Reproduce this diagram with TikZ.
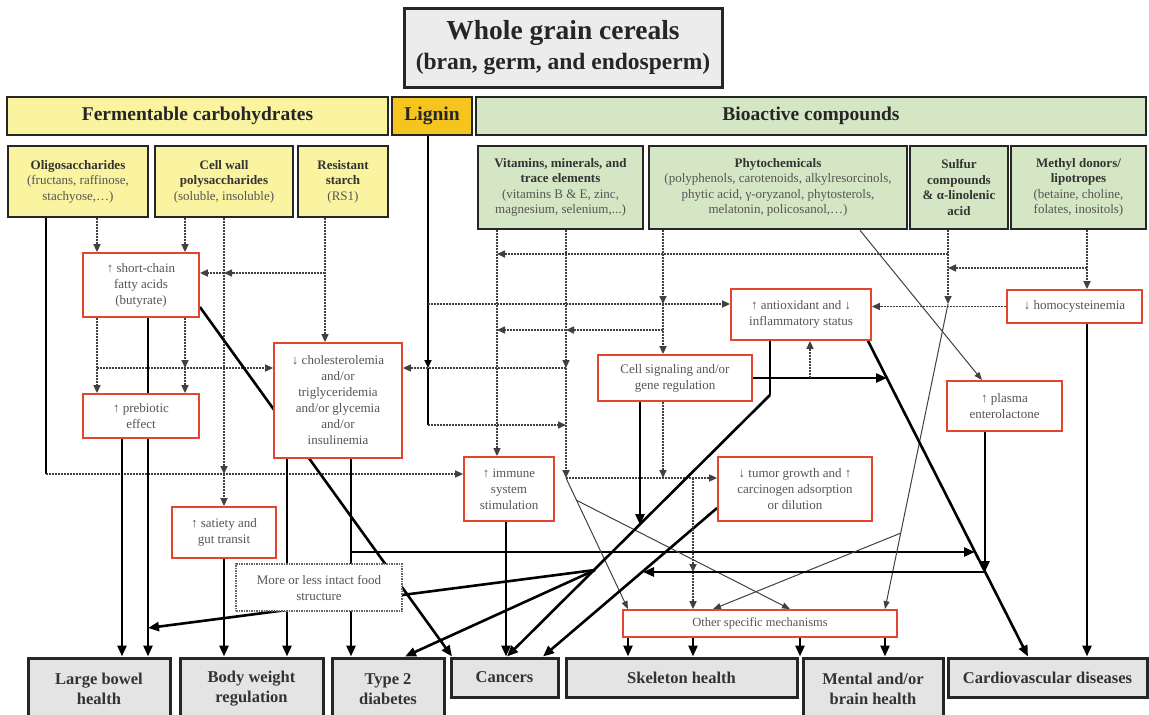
\documentclass[tikz,border=0pt]{standalone}
\usepackage{fontspec}
\setmainfont{Liberation Serif}
\usetikzlibrary{arrows.meta}
\pgfdeclarelayer{bg}
\pgfsetlayers{bg,main}

\definecolor{fermyellow}{RGB}{250,243,160}
\definecolor{lignorange}{RGB}{245,196,30}
\definecolor{biogreen}{RGB}{213,230,196}
\definecolor{outgray}{RGB}{228,228,228}
\definecolor{titlegray}{RGB}{236,236,236}
\definecolor{boxred}{RGB}{228,70,45}
\definecolor{textgray}{RGB}{85,85,85}

\newcommand{\fsz}[2]{\fontsize{#1}{#2}\selectfont}
\newcommand{\srchd}[1]{\textbf{\textcolor{black!80}{#1}}}

\begin{document}
\begin{tikzpicture}[x=1pt, y=-1pt,
every node/.style={align=center, inner sep=1pt},
srcbox/.style={draw=black!85, line width=2.6pt, text=textgray, font=\fsz{13}{15.5}},
yelbox/.style={srcbox, fill=fermyellow},
grnbox/.style={srcbox, fill=biogreen},
headbox/.style={draw=black!85, line width=2.6pt, text=black!85, font=\fsz{19.5}{22}\bfseries},
redbox/.style={draw=boxred, line width=1.8pt, fill=white, text=textgray, font=\fsz{13}{16}},
outbox/.style={draw=black!85, line width=3pt, fill=outgray, text=black!80, font=\fsz{16.5}{20}\bfseries},
fine/.style={draw=black!75, line width=1.6pt, dash pattern=on 2pt off 1pt},
finearr/.style={fine, -{Triangle[length=8pt,width=7pt]}},
slimarr/.style={draw=black!75, line width=1pt, -{Triangle[length=8pt,width=6pt]}},
heavy/.style={draw=black, line width=2.6pt},
heavyarr/.style={heavy, -{Triangle[length=11pt,width=9pt]}}
]
\useasboundingbox (0,0) rectangle (1149,715);

% title and groups
\node (title) at (563,47.5) [draw=black!85, line width=3pt, fill=titlegray, minimum width=318, minimum height=79, font=\bfseries, text=black!85]
  {{\fsz{27.5}{30}Whole grain cereals}\\[7pt]{\fsz{23.5}{28}(bran, germ, and endosperm)}};
\node (ferm) at (197.5,116) [headbox, fill=fermyellow, minimum width=381, minimum height=38] {Fermentable carbohydrates};
\node (lignin) at (432,116) [headbox, fill=lignorange, minimum width=80, minimum height=38] {Lignin};
\node (bioact) at (811,116) [headbox, fill=biogreen, minimum width=670, minimum height=38] {Bioactive compounds};

% sources
\node (oligo) at (78,181.5) [yelbox, minimum width=140, minimum height=71]
  {\srchd{Oligosaccharides}\\(fructans, raffinose,\\stachyose,…)};
\node (cellwall) at (224,181.5) [yelbox, minimum width=138, minimum height=71]
  {\srchd{Cell wall}\\\srchd{polysaccharides}\\(soluble, insoluble)};
\node (rstarch) at (343,181.5) [yelbox, minimum width=90, minimum height=71]
  {\srchd{Resistant}\\\srchd{starch}\\(RS1)};
\node (vitam) at (560.5,187.5) [grnbox, minimum width=165, minimum height=83]
  {\srchd{Vitamins, minerals, and}\\\srchd{trace elements}\\(vitamins B \& E, zinc,\\magnesium, selenium,...)};
\node (phyto) at (778,187.5) [grnbox, minimum width=258, minimum height=83]
  {\srchd{Phytochemicals}\\(polyphenols, carotenoids, alkylresorcinols,\\phytic acid, γ-oryzanol, phytosterols,\\melatonin, policosanol,…)};
\node (sulfur) at (959,187.5) [grnbox, minimum width=98, minimum height=83]
  {\srchd{Sulfur}\\\srchd{compounds}\\\srchd{\& α-linolenic}\\\srchd{acid}};
\node (methyl) at (1078.5,187.5) [grnbox, minimum width=135, minimum height=83]
  {\srchd{Methyl donors/}\\\srchd{lipotropes}\\(betaine, choline,\\folates, inositols)};

% effects
\node (scfa) at (141,285) [redbox, minimum width=116, minimum height=64] {↑ short-chain\\fatty acids\\(butyrate)};
\node (prebio) at (141,416) [redbox, minimum width=116, minimum height=44] {↑ prebiotic\\effect};
\node (chol) at (338,400.5) [redbox, minimum width=128, minimum height=115]
  {↓ cholesterolemia\\and/or\\triglyceridemia\\and/or glycemia\\and/or\\insulinemia};
\node (satiety) at (224,532.5) [redbox, minimum width=104, minimum height=51] {↑ satiety and\\gut transit};
\node (intact) at (319,587.5) [redbox, draw=black!60, dash pattern=on 1.5pt off 1pt, line width=1.5pt, minimum width=166, minimum height=47]
  {More or less intact food\\structure};
\node (immune) at (509,489) [redbox, minimum width=90, minimum height=64] {↑ immune\\system\\stimulation};
\node (cellsig) at (675,378) [redbox, minimum width=154, minimum height=46] {Cell signaling and/or\\gene regulation};
\node (antiox) at (801,314.5) [redbox, minimum width=140, minimum height=51] {↑ antioxidant and ↓\\inflammatory status};
\node (homocys) at (1074.5,306.5) [redbox, minimum width=135, minimum height=33] {↓ homocysteinemia};
\node (plasma) at (1004.5,406) [redbox, minimum width=115, minimum height=50] {↑ plasma\\enterolactone};
\node (tumor) at (795,489) [redbox, minimum width=154, minimum height=64] {↓ tumor growth and ↑\\carcinogen adsorption\\or dilution};
\node (other) at (760,623.5) [redbox, minimum width=274, minimum height=27, font=\fsz{12.5}{15}] {Other specific mechanisms};

% health outcomes
\node (bowel) at (99,689) [outbox, minimum width=142, minimum height=62] {Large bowel\\health};
\node (bodyw) at (251.5,689) [outbox, minimum width=143, minimum height=62] {Body weight\\regulation};
\node (type2) at (388,689) [outbox, minimum width=112, minimum height=62] {Type 2\\diabetes};
\node (cancers) at (504.5,677.5) [outbox, minimum width=107, minimum height=39] {Cancers};
\node (skeleton) at (681.5,677.5) [outbox, minimum width=231, minimum height=39] {Skeleton health};
\node (mental) at (873,689) [outbox, minimum width=140, minimum height=62] {Mental and/or\\brain health};
\node (cvd) at (1047.5,677.5) [outbox, minimum width=199, minimum height=39] {Cardiovascular diseases};

% junctions
\coordinate (jOl) at (46,474);
\coordinate (jCw) at (224,474);
\coordinate (jCw2) at (224,273);
\coordinate (jRs) at (325,273);
\coordinate (jSc) at (185,368);
\coordinate (jSc2) at (97,368);
\coordinate (jCh) at (351,552);
\coordinate (jBw) at (148,628);
\coordinate (jLg) at (428,368);
\coordinate (jLg2) at (428,425);
\coordinate (jLg3) at (428,304);
\coordinate (jVi) at (566,368);
\coordinate (jVi2) at (566,478);
\coordinate (jVi3) at (566,330);
\coordinate (jVi4) at (497,330);
\coordinate (jVi5) at (497,254);
\coordinate (jVi6) at (576,500);
\coordinate (jPh) at (663,304);
\coordinate (jPh2) at (663,330);
\coordinate (jSu) at (948,304);
\coordinate (jSu2) at (948,254);
\coordinate (jSu3) at (948,268);
\coordinate (jSu4) at (901,533);
\coordinate (jMe) at (1087,268);
\coordinate (jCs) at (663,478);
\coordinate (jCs2) at (810,378);
\coordinate (jAo) at (770,395);
\coordinate (jAo2) at (640,525);
\coordinate (jAo3) at (595,570);
\coordinate (jAo4) at (887,378);
\coordinate (jCv) at (975,552);
\coordinate (jCv2) at (985,572);
\coordinate (jTu) at (643,572);
\coordinate (jTu2) at (693,478);
\coordinate (jTu3) at (693,572);

\begin{pgfonlayer}{bg}
% fermentable carbohydrates
\draw[heavy, line width=1.6pt] (46,0 |- oligo.south) -- (jOl);
\draw[finearr] (jOl) -- (immune.west |- jOl);
\draw[finearr] (97,0 |- oligo.south) -- (97,0 |- scfa.north);
\draw[finearr] (185,0 |- cellwall.south) -- (185,0 |- scfa.north);
\draw[finearr] (224,0 |- cellwall.south) -- (jCw);
\draw[finearr] (jCw) -- (satiety.north);
\draw[finearr] (325,0 |- rstarch.south) -- (325,0 |- chol.north);
\draw[finearr] (jRs) -- (jCw2);
\draw[finearr] (jCw2) -- (scfa.east |- jCw2);
\draw[finearr] (97,0 |- scfa.south) -- (97,0 |- prebio.north);
\draw[finearr] (185,0 |- scfa.south) -- (jSc);
\draw[finearr] (jSc) -- (185,0 |- prebio.north);
\draw[finearr] (jSc2) -- (chol.west |- jSc2);
\draw[heavyarr] (148,0 |- scfa.south) -- (148,0 |- bowel.north);
\draw[heavyarr] (122,0 |- prebio.south) -- (122,0 |- bowel.north);
\draw[heavyarr] (scfa.east |- 0,307) -- (452,0 |- cancers.north);
\draw[heavyarr] (224,0 |- satiety.south) -- (224,0 |- bodyw.north);
\draw[heavyarr] (287,0 |- chol.south) -- (287,0 |- bodyw.north);
\draw[heavyarr] (351,0 |- chol.south) -- (351,0 |- type2.north);
\draw[heavyarr] (jCh) -- (jCv);
\draw[heavyarr] (jAo3) -- (jBw);
\draw[heavyarr] (jAo3) -- (405,0 |- type2.north);

% lignin
\draw[heavy, line width=1.6pt, -{Triangle[length=8pt,width=7pt]}] (428,0 |- lignin.south) -- (jLg);
\draw[heavy, line width=1.6pt] (jLg) -- (jLg2);
\draw[finearr] (jLg2) -- (jVi |- jLg2);
\draw[finearr] (jLg3) -- (antiox.west |- jLg3);

% bioactive compounds
\draw[finearr] (497,0 |- vitam.south) -- (497,0 |- immune.north);
\draw[finearr] (566,0 |- vitam.south) -- (jVi);
\draw[finearr] (jVi) -- (jVi2);
\draw[finearr] (jVi) -- (chol.east |- jVi);
\draw[finearr] (jVi2) -- (tumor.west |- jVi2);
\draw[slimarr] (jVi2) -- (628,0 |- other.north);
\draw[slimarr] (jVi6) -- (790,0 |- other.north);
\draw[finearr] (663,0 |- phyto.south) -- (jPh);
\draw[finearr] (jPh) -- (663,0 |- cellsig.north);
\draw[finearr] (jPh2) -- (jVi3);
\draw[finearr] (jVi3) -- (jVi4);
\draw[slimarr] (860,0 |- phyto.south) -- (982,0 |- plasma.north);
\draw[finearr] (948,0 |- sulfur.south) -- (jSu);
\draw[finearr] (jSu2) -- (jVi5);
\draw[slimarr] (jSu) -- (885,0 |- other.north);
\draw[slimarr] (jSu4) -- (713,0 |- other.north);
\draw[finearr] (1087,0 |- methyl.south) -- (1087,0 |- homocys.north);
\draw[finearr] (jMe) -- (jSu3);
\draw[finearr] (homocys.west) -- (antiox.east |- homocys.west);
\draw[heavyarr] (1087,0 |- homocys.south) -- (1087,0 |- cvd.north);

% mechanisms
\draw[heavyarr] (640,0 |- cellsig.south) -- (jAo2);
\draw[finearr] (663,0 |- cellsig.south) -- (jCs);
\draw[heavyarr] (cellsig.east) -- (jAo4);
\draw[finearr] (jCs2) -- (810,0 |- antiox.south);
\draw[heavy] (770,0 |- antiox.south) -- (jAo);
\draw[heavyarr] (jAo) -- (507,0 |- cancers.north);
\draw[heavyarr] (868,0 |- antiox.south) -- (1028,0 |- cvd.north);
\draw[heavyarr] (506,0 |- immune.south) -- (506,0 |- cancers.north);
\draw[heavyarr] (tumor.west |- 0,508) -- (543,0 |- cancers.north);
\draw[finearr] (jTu2) -- (jTu3);
\draw[finearr] (jTu3) -- (693,0 |- other.north);
\draw[heavyarr] (985,0 |- plasma.south) -- (jCv2);
\draw[heavyarr] (jCv2) -- (jTu);
\foreach \x in {628,693,800,885}
  \draw[heavyarr] (\x,0 |- other.south) -- (\x,0 |- skeleton.north);
\end{pgfonlayer}
\end{tikzpicture}
\end{document}
